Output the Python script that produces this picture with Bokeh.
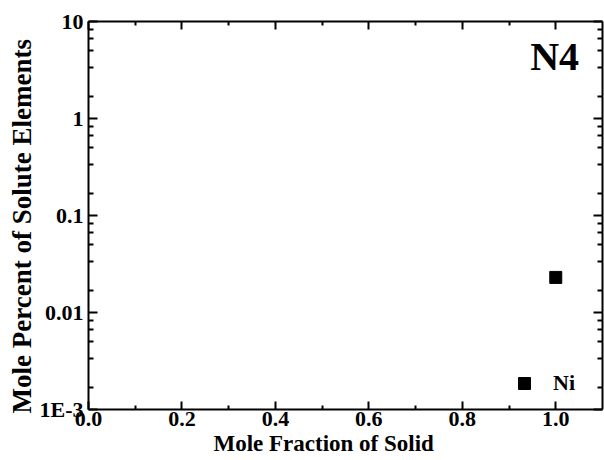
from bokeh.plotting import figure
from bokeh.models import (Range1d, FixedTicker, LinearAxis, LogAxis, Label,
                          Legend, LegendItem, PrintfTickFormatter,
                          CustomJSTickFormatter, Title)
from bokeh.embed import file_html
from bokeh.resources import INLINE

# ---- data ----
mole_fraction_solid = [1.0]
ni_mole_percent = [0.023]
series_name = "Ni"
sample_name = "N4"

x_major_ticks = [0.0, 0.2, 0.4, 0.6, 0.8, 1.0]
x_minor_ticks = [0.1, 0.3, 0.5, 0.7, 0.9]

y_major_ticks = [0.001, 0.01, 0.1, 1, 10]
y_tick_labels = ["1E-3", "0.01", "0.1", "1", "10"]
y_minor_fracs = [1, 2, 3, 4, 5]  # sixths of each decade (Origin-style)

x_title = "Mole Fraction of Solid"
y_title = "Mole Percent of Solute Elements"

FONT = "Liberation Serif"

y_minor_ticks = [d * k / 6 for d in y_major_ticks[1:] for k in y_minor_fracs]

p = figure(width=604, height=460, x_range=Range1d(0, 1.1),
           y_range=Range1d(0.001, 10), y_axis_type="log",
           output_backend="svg", toolbar_location=None,
           min_border_left=88, min_border_right=2, min_border_top=21,
           min_border_bottom=51, outline_line_color=None)
p.xgrid.visible = False
p.ygrid.visible = False
p.background_fill_color = "white"
p.border_fill_color = "white"

xt = FixedTicker(ticks=x_major_ticks, minor_ticks=x_minor_ticks)
yt = FixedTicker(ticks=y_major_ticks, minor_ticks=y_minor_ticks)

bottom = p.below[0]
left = p.left[0]
blank = CustomJSTickFormatter(code="return ''")
top = LinearAxis(formatter=blank)
right = LogAxis(formatter=blank)
p.add_layout(top, "above")
p.add_layout(right, "right")

for ax in (bottom, top):
    ax.ticker = xt
    ax.major_tick_in = 8
    ax.minor_tick_in = 4
for ax in (left, right):
    ax.ticker = yt
    ax.major_tick_in = 9
    ax.minor_tick_in = 5

for ax in (bottom, top, left, right):
    ax.major_tick_out = 0
    ax.minor_tick_out = 0
    ax.axis_line_width = 2
    ax.major_tick_line_width = 2
    ax.minor_tick_line_width = 2
    ax.axis_line_color = "black"
    ax.major_tick_line_color = "black"
    ax.minor_tick_line_color = "black"
    ax.major_label_text_font = FONT
    ax.major_label_text_font_style = "bold"
    ax.major_label_text_font_size = "22px"
    ax.major_label_text_color = "black"

bottom.formatter = PrintfTickFormatter(format="%.1f")
left.major_label_overrides = {t: s for t, s in zip(y_major_ticks, y_tick_labels)}
bottom.major_label_standoff = 2
left.major_label_standoff = 5

for ax in (top, right):
    ax.major_label_text_font_size = "10px"
    ax.major_label_standoff = 0

r = p.scatter(mole_fraction_solid, ni_mole_percent, marker="square", size=12,
              fill_color="black", line_color="black")

legend = Legend(items=[LegendItem(label=series_name, renderers=[r])],
                location=(421, 11), padding=0, margin=0, spacing=0,
                glyph_width=30, glyph_height=30, label_standoff=14,
                border_line_color=None, background_fill_alpha=0,
                label_text_font=FONT, label_text_font_style="bold",
                label_text_font_size="22px", label_text_color="black")
p.add_layout(legend, "center")

p.add_layout(Label(x=0.9975, y=4.4, text=sample_name, text_align="center",
                   text_baseline="alphabetic", text_font=FONT,
                   text_font_style="bold", text_font_size="40px",
                   text_color="black"))

p.add_layout(Title(text=x_title, align="left", offset=125, standoff=0,
                   text_font=FONT, text_font_style="bold",
                   text_font_size="23px", text_color="black"), "below")
p.add_layout(Title(text=y_title, align="left", offset=-4, standoff=0,
                   text_font=FONT, text_font_style="bold",
                   text_font_size="27px", text_color="black"), "left")

open("out.html", "w").write(file_html(p, INLINE))
